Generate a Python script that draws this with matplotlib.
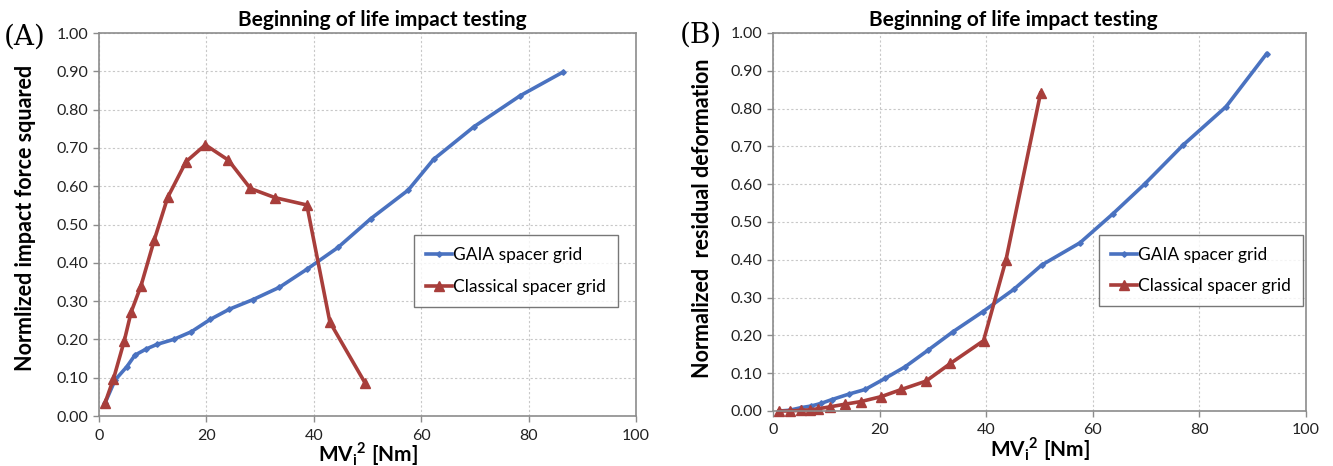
import numpy as np
import matplotlib
matplotlib.use("Agg")
import matplotlib.pyplot as plt

plt.rcParams['font.family'] = ['Lato', 'DejaVu Sans']
plt.rcParams['mathtext.fontset'] = 'custom'
plt.rcParams['mathtext.rm'] = 'Lato'
plt.rcParams['mathtext.bf'] = 'Lato:bold'

# (A) normalized impact force squared
a_gaia_x = [1.1, 3.0, 5.2, 6.7, 8.8, 10.8, 13.9, 17.2, 20.7, 24.3, 28.7, 33.6,
            38.7, 44.5, 50.6, 57.6, 62.3, 69.8, 78.4, 86.4]
a_gaia_y = [0.033, 0.094, 0.129, 0.159, 0.175, 0.187, 0.200, 0.220, 0.252, 0.279,
            0.304, 0.336, 0.383, 0.440, 0.515, 0.590, 0.670, 0.755, 0.836, 0.898]
a_class_x = [1.1, 2.7, 4.7, 6.0, 7.8, 10.3, 12.8, 16.2, 19.8, 24.1, 28.2, 32.8,
             38.7, 43.0, 49.6]
a_class_y = [0.033, 0.097, 0.196, 0.272, 0.339, 0.460, 0.571, 0.664, 0.708, 0.668,
             0.594, 0.570, 0.551, 0.245, 0.085]

# (B) normalized residual deformation
b_gaia_x = [1.2, 3.1, 5.3, 7.1, 9.0, 11.0, 14.3, 17.3, 21.0, 24.8, 29.1, 33.7,
            39.4, 45.2, 50.4, 57.6, 63.8, 69.7, 76.9, 85.0, 92.6]
b_gaia_y = [0.000, 0.002, 0.009, 0.013, 0.020, 0.030, 0.045, 0.057, 0.086, 0.117,
            0.161, 0.209, 0.263, 0.322, 0.386, 0.445, 0.522, 0.600, 0.703, 0.805, 0.945]
b_class_x = [1.2, 3.1, 5.3, 6.9, 8.5, 10.7, 13.5, 16.5, 20.3, 24.1, 28.7, 33.3,
             39.5, 43.7, 50.2]
b_class_y = [0.000, 0.000, 0.002, 0.003, 0.006, 0.011, 0.018, 0.025, 0.038, 0.057,
             0.079, 0.126, 0.186, 0.399, 0.841]

title = "Beginning of life impact testing"
xlab = r"MV$_\mathbf{i}$$^\mathbf{2}$ [Nm]"
blue = "#4A72C0"
red = "#A83E3B"

W, H = 1333, 466
fig = plt.figure(figsize=(W / 100, H / 100), dpi=100)

def px_axes(x0, y0, x1, y1):
    return fig.add_axes([x0 / W, 1 - y1 / H, (x1 - x0) / W, (y1 - y0) / H])

axA = px_axes(99, 33, 636, 416)
axB = px_axes(773, 33, 1306, 411)

# ax, data, ylabel, ylabel pos, title x, legend box (px)
panels = [
    (axA, a_gaia_x, a_gaia_y, a_class_x, a_class_y, "Normlized impact force squared",
     (-0.117, 0.517), 0.527, (409, 238, 623, 304)),
    (axB, b_gaia_x, b_gaia_y, b_class_x, b_class_y, "Normalized  residual deformation",
     (-0.113, 0.51), 0.45, (1112, 237, 1290, 304)),
]

for ax, gx, gy, cx, cy, ylab, ypos, tx, lbox in panels:
    ax.plot(gx, gy, color=blue, lw=2.6, marker="D", ms=2.8, label="GAIA spacer grid")
    ax.plot(cx, cy, color=red, lw=2.6, marker="^", ms=7.5, label="Classical spacer grid",
            clip_on=False)
    ax.set_xlim(0, 100)
    ax.set_ylim(0, 1)
    ax.set_xticks(np.arange(0, 101, 20))
    ax.set_yticks(np.arange(0, 1.01, 0.1))
    ax.set_yticklabels([f"{v:.2f}" for v in np.arange(0, 1.01, 0.1)])
    ax.grid(True, color="#c8c8c8", ls=(0, (2, 2)), lw=0.8)
    ax.set_axisbelow(True)
    for s in ax.spines.values():
        s.set_color("#8c8c8c")
        s.set_linewidth(1.2)
    ax.tick_params(colors="#8c8c8c", labelcolor="#222222", labelsize=11.5,
                   length=4, width=1)
    ax.tick_params(axis="x", pad=5)
    ax.set_xlabel(xlab, fontsize=15, fontweight="bold", labelpad=-2)
    ax.set_ylabel(ylab, fontsize=15.5, fontweight="bold")
    ax.yaxis.set_label_coords(*ypos)
    ax.set_title(title, fontsize=15, fontweight="bold", pad=5, x=tx)
    x0, y0, x1, y1 = lbox
    bb = ax.transAxes.inverted().transform(fig.transFigure.transform(
        [[x0 / W, 1 - y1 / H], [x1 / W, 1 - y0 / H]]))
    leg = ax.legend(loc="center", bbox_to_anchor=(bb[0, 0], bb[0, 1],
                    bb[1, 0] - bb[0, 0], bb[1, 1] - bb[0, 1]),
                    fontsize=12.5, frameon=True, fancybox=False, handlelength=1.5,
                    handletextpad=0.1, labelspacing=0.9, borderpad=0.7)
    leg.get_frame().set_edgecolor("#555555")
    leg.get_frame().set_linewidth(1.0)

fig.text(4 / W, 1 - 37 / H, "(A)", family="DejaVu Serif", fontsize=20, va="center")
fig.text(680 / W, 1 - 35 / H, "(B)", family="DejaVu Serif", fontsize=20, va="center")

fig.savefig("out.png", dpi=100)
